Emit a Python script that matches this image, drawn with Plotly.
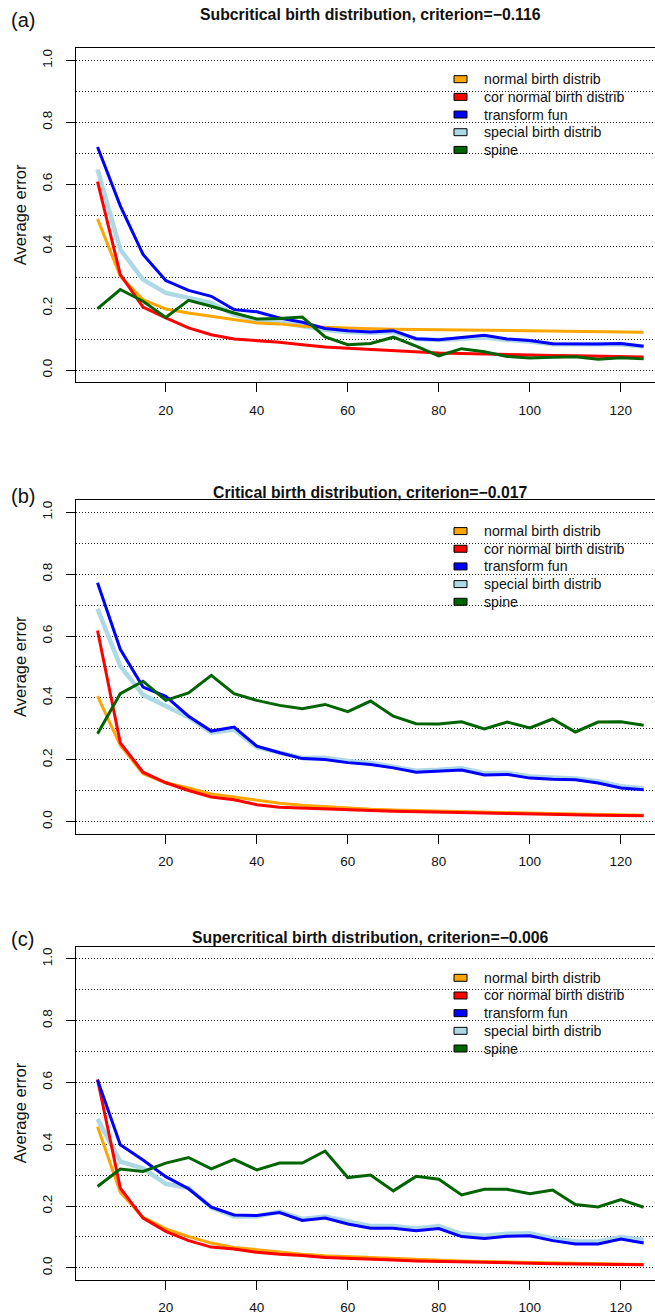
import plotly.graph_objects as go

W, H = 655, 1315

x_vals = [5, 10, 15, 20, 25, 30, 35, 40, 45, 50, 55, 60, 65, 70, 75, 80, 85, 90, 95, 100, 105, 110, 115, 120, 125]

series_names = ["normal birth distrib", "cor normal birth distrib", "transform fun",
                "special birth distrib", "spine"]
series_colors = ["#FFA500", "#FF0000", "#0000FF", "#ADD8E6", "#006400"]

panel_titles = ["Subcritical birth distribution, criterion=\u22120.116",
                "Critical birth distribution, criterion=\u22120.017",
                "Supercritical birth distribution, criterion=\u22120.006"]
panel_tags = ["(a)", "(b)", "(c)"]

# Panel (a) - subcritical
a_normal = [0.488, 0.303, 0.227, 0.197, 0.184, 0.174, 0.163, 0.152, 0.149, 0.141, 0.138, 0.135, 0.133,
            0.132, 0.131, 0.130, 0.129, 0.128, 0.128, 0.127, 0.126, 0.125, 0.124, 0.123, 0.122]
a_cor = [0.608, 0.308, 0.203, 0.168, 0.136, 0.114, 0.100, 0.096, 0.090, 0.082, 0.074, 0.070, 0.066,
         0.062, 0.058, 0.055, 0.053, 0.051, 0.050, 0.048, 0.047, 0.046, 0.045, 0.044, 0.042]
a_transform = [0.720, 0.530, 0.373, 0.289, 0.257, 0.238, 0.195, 0.188, 0.168, 0.154, 0.134, 0.127, 0.123,
               0.127, 0.101, 0.098, 0.105, 0.112, 0.100, 0.095, 0.085, 0.084, 0.084, 0.086, 0.077]
a_special = [0.648, 0.389, 0.292, 0.249, 0.233, 0.217, 0.179, 0.161, 0.154, 0.141, 0.130, 0.123, 0.120,
             0.123, 0.100, 0.097, 0.100, 0.105, 0.097, 0.092, 0.083, 0.082, 0.082, 0.083, 0.076]
a_spine = [0.198, 0.260, 0.222, 0.170, 0.225, 0.206, 0.184, 0.165, 0.166, 0.171, 0.107, 0.082, 0.086,
           0.106, 0.077, 0.046, 0.069, 0.059, 0.044, 0.039, 0.041, 0.043, 0.035, 0.040, 0.036]

# Panel (b) - critical
b_normal = [0.406, 0.247, 0.155, 0.126, 0.109, 0.090, 0.080, 0.069, 0.060, 0.053, 0.048, 0.044, 0.040,
            0.038, 0.036, 0.034, 0.033, 0.032, 0.030, 0.028, 0.027, 0.025, 0.024, 0.023, 0.021]
b_cor = [0.618, 0.255, 0.160, 0.126, 0.101, 0.080, 0.071, 0.055, 0.047, 0.044, 0.040, 0.039, 0.036,
         0.034, 0.032, 0.030, 0.029, 0.028, 0.027, 0.025, 0.024, 0.022, 0.021, 0.020, 0.019]
b_transform = [0.772, 0.557, 0.435, 0.405, 0.341, 0.293, 0.306, 0.244, 0.223, 0.204, 0.201, 0.191, 0.185,
               0.174, 0.160, 0.164, 0.167, 0.151, 0.153, 0.141, 0.137, 0.136, 0.125, 0.109, 0.103]
b_special = [0.688, 0.503, 0.410, 0.376, 0.338, 0.288, 0.298, 0.241, 0.222, 0.206, 0.207, 0.196, 0.190,
             0.179, 0.165, 0.168, 0.173, 0.157, 0.158, 0.146, 0.142, 0.140, 0.131, 0.115, 0.108]
b_spine = [0.284, 0.414, 0.454, 0.392, 0.416, 0.473, 0.414, 0.392, 0.376, 0.365, 0.379, 0.356, 0.390,
           0.341, 0.317, 0.316, 0.323, 0.300, 0.322, 0.303, 0.332, 0.290, 0.322, 0.323, 0.312]

# Panel (c) - supercritical
c_normal = [0.457, 0.245, 0.163, 0.126, 0.101, 0.080, 0.066, 0.058, 0.050, 0.044, 0.039, 0.036, 0.032,
            0.029, 0.026, 0.024, 0.022, 0.020, 0.019, 0.017, 0.016, 0.014, 0.013, 0.012, 0.011]
c_cor = [0.610, 0.258, 0.161, 0.118, 0.088, 0.067, 0.061, 0.050, 0.044, 0.040, 0.033, 0.031, 0.028,
         0.025, 0.022, 0.021, 0.019, 0.017, 0.016, 0.015, 0.013, 0.012, 0.011, 0.010, 0.010]
c_transform = [0.608, 0.398, 0.349, 0.295, 0.256, 0.196, 0.171, 0.169, 0.179, 0.153, 0.161, 0.142, 0.128,
               0.128, 0.120, 0.127, 0.101, 0.095, 0.102, 0.104, 0.088, 0.077, 0.077, 0.093, 0.080]
c_special = [0.482, 0.344, 0.322, 0.272, 0.258, 0.195, 0.166, 0.166, 0.182, 0.158, 0.166, 0.150, 0.135,
             0.135, 0.127, 0.135, 0.110, 0.104, 0.110, 0.112, 0.095, 0.085, 0.085, 0.100, 0.090]
c_spine = [0.263, 0.320, 0.312, 0.339, 0.357, 0.320, 0.351, 0.317, 0.339, 0.339, 0.378, 0.292, 0.300,
           0.249, 0.296, 0.287, 0.236, 0.254, 0.254, 0.240, 0.252, 0.205, 0.197, 0.221, 0.196]

panels = [
    [a_normal, a_cor, a_transform, a_special, a_spine],
    [b_normal, b_cor, b_transform, b_special, b_spine],
    [c_normal, c_cor, c_transform, c_special, c_spine],
]

x_ticks = [20, 40, 60, 80, 100, 120]
y_ticks = [0.0, 0.2, 0.4, 0.6, 0.8, 1.0]

# ---- layout geometry (pixels) ----
plot_left = 75.7
panel_top = [48.0, 500.6, 948.0]
panel_bot = [383.0, 835.4, 1282.1]
title_y = [15.0, 493.0, 939.0]
tag_y = [20.0, 497.0, 940.0]

FONT = "Liberation Sans, Arial, Helvetica, sans-serif"
widths = [3, 3, 3, 4.5, 3]
draw_order = [3, 0, 1, 2, 4]


def px_x(p):
    return p / W


def px_y(p):
    return 1 - p / H


fig = go.Figure()
shapes = []
annotations = []
layout_axes = {}

for k in range(3):
    xa = "x" if k == 0 else f"x{k+1}"
    ya = "y" if k == 0 else f"y{k+1}"
    xkey = "xaxis" if k == 0 else f"xaxis{k+1}"
    ykey = "yaxis" if k == 0 else f"yaxis{k+1}"
    for i in draw_order:
        fig.add_trace(go.Scatter(
            x=x_vals, y=panels[k][i], mode="lines", name=series_names[i],
            line=dict(color=series_colors[i], width=widths[i]),
            xaxis=xa, yaxis=ya, showlegend=False, hoverinfo="skip"))

    layout_axes[xkey] = dict(
        domain=[px_x(plot_left), 1.0], range=[0.2, 127.5], anchor=ya,
        tickvals=x_ticks, ticktext=[str(v) for v in x_ticks],
        ticks="outside", ticklen=9, tickwidth=1, tickcolor="black",
        showline=True, linecolor="black", linewidth=1, mirror=True,
        showgrid=False, zeroline=False, ticklabelstandoff=6,
        tickfont=dict(family=FONT, size=13.5, color="#111"))
    layout_axes[ykey] = dict(
        domain=[px_y(panel_bot[k]), px_y(panel_top[k])], range=[-0.04, 1.04], anchor=xa,
        tickvals=y_ticks, ticktext=[f"{v:.1f}" for v in y_ticks], tickangle=-90,
        ticks="outside", ticklen=9, tickwidth=1, tickcolor="black",
        showline=True, linecolor="black", linewidth=1, mirror=False,
        showgrid=True, gridcolor="#222", gridwidth=1, griddash="1px,2px",
        minor=dict(tickvals=[0.1, 0.3, 0.5, 0.7, 0.9], showgrid=True, gridcolor="#222",
                   gridwidth=1, griddash="1px,2px", ticks=""),
        zeroline=False, ticklabelstandoff=8,
        tickfont=dict(family=FONT, size=13.5, color="#111"))

    # title
    annotations.append(dict(
        text=f"<b>{panel_titles[k]}</b>", xref="paper", yref="paper",
        x=px_x(370), y=px_y(title_y[k]), xanchor="center", yanchor="middle",
        showarrow=False, font=dict(family=FONT, size=15.8, color="#111")))
    # panel tag
    annotations.append(dict(
        text=panel_tags[k], xref="paper", yref="paper",
        x=px_x(9), y=px_y(tag_y[k]), xanchor="left", yanchor="middle",
        showarrow=False, font=dict(family=FONT, size=20, color="#111")))
    # y label
    annotations.append(dict(
        text="Average error", xref="paper", yref="paper", textangle=-90,
        x=px_x(20), y=px_y((panel_top[k] + panel_bot[k]) / 2), xanchor="center", yanchor="middle",
        showarrow=False, font=dict(family=FONT, size=16.5, color="#111")))

    # legend (drawn manually)
    for i, nm in enumerate(series_names):
        cy = panel_top[k] + 31.3 + 17.7 * i
        shapes.append(dict(
            type="rect", xref="paper", yref="paper",
            x0=px_x(454), x1=px_x(467), y0=px_y(cy - 3.5), y1=px_y(cy + 3.5),
            fillcolor=series_colors[i], line=dict(color="black", width=1), layer="above"))
        annotations.append(dict(
            text=nm, xref="paper", yref="paper", x=px_x(482), y=px_y(cy),
            xanchor="left", yanchor="middle", showarrow=False,
            font=dict(family=FONT, size=14.2, color="#111")))

fig.update_layout(
    width=W, height=H, margin=dict(l=0, r=0, t=0, b=0),
    paper_bgcolor="white", plot_bgcolor="white",
    shapes=shapes, annotations=annotations, showlegend=False,
    **layout_axes)

fig.write_html("out.html")
